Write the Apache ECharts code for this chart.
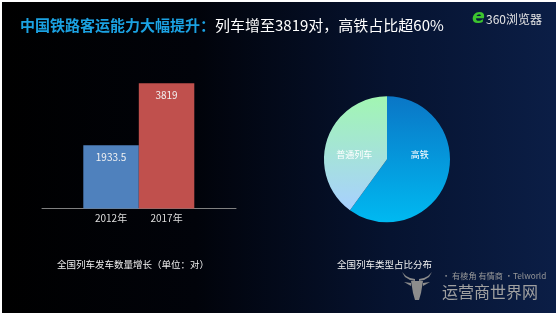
<!DOCTYPE html>
<html>
<head>
<meta charset="utf-8">
<script src="https://cdn.jsdelivr.net/npm/echarts@6/dist/echarts.min.js"></script>
<style>
  html, body { margin: 0; padding: 0; background: #fff; }
  #chart { position: absolute; left: 2px; top: 2px; width: 554px; height: 311px; }
</style>
</head>
<body>
<div id="chart"></div>
<script>
// data
var years = ['2012年', '2017年'];
var trainPairs = [1933.5, 3819];
var trainTypes = ['高铁', '普通列车'];
var typeShares = [60, 40];

var FONT = '"Noto Sans CJK SC", "Noto Sans", sans-serif';
var barColors = ['#4f81bd', '#c0504d'];
var pieColors = [
    new echarts.graphic.LinearGradient(0, 0, 0, 1, [
        { offset: 0, color: '#0a76c6' },
        { offset: 1, color: '#00b9f1' }
    ]),
    new echarts.graphic.LinearGradient(0, 0, 0, 1, [
        { offset: 0, color: '#a2f6b2' },
        { offset: 1, color: '#a8d0ff' }
    ])
];
var iconGrey = '#8c8c8c';
var pieLabelY = 153; // both slice names sit on one line in the original

var myChart = echarts.init(document.getElementById('chart'));

var option = {
    backgroundColor: new echarts.graphic.LinearGradient(0, 0, 1, 0, [
        { offset: 0, color: '#000000' },
        { offset: 0.35, color: '#01030a' },
        { offset: 0.7, color: '#061330' },
        { offset: 1, color: '#0b1e46' }
    ]),
    textStyle: { fontFamily: FONT },
    title: [{
        left: 18,
        top: 16,
        padding: 0,
        text: '{a|中国铁路客运能力大幅提升：}{b|列车增至3819对，高铁占比超60%}',
        textStyle: {
            fontWeight: 'normal',
            rich: {
                a: { color: '#1ba2e2', fontSize: 15, fontWeight: 'bold', fontFamily: FONT },
                b: { color: '#ffffff', fontSize: 15, fontWeight: 'normal', fontFamily: FONT }
            }
        }
    }, {
        left: 55,
        top: 258,
        padding: 0,
        text: '全国列车发车数量增长（单位：对）',
        textStyle: { color: '#f0f0f0', fontSize: 9.5, fontWeight: 'normal', fontFamily: FONT }
    }, {
        left: 335,
        top: 258,
        padding: 0,
        text: '全国列车类型占比分布',
        textStyle: { color: '#f0f0f0', fontSize: 9.5, fontWeight: 'normal', fontFamily: FONT }
    }],
    grid: [
        { left: 81.3, top: 75.4, width: 111, height: 131.1 },
        { left: 40, top: 75.4, width: 194, height: 131.1 }
    ],
    xAxis: [{
        gridIndex: 0,
        type: 'category',
        data: years,
        axisLine: { show: false },
        axisTick: { show: false },
        axisLabel: { color: '#dddddd', fontSize: 10, margin: 5 }
    }, {
        gridIndex: 1,
        type: 'category',
        data: [''],
        axisLine: { lineStyle: { color: '#808080', width: 1 } },
        axisTick: { length: 4, lineStyle: { color: '#808080' } },
        axisLabel: { show: false }
    }],
    yAxis: [
        { gridIndex: 0, type: 'value', min: 0, max: 4000, show: false },
        { gridIndex: 1, type: 'value', show: false }
    ],
    series: [{
        type: 'bar',
        xAxisIndex: 0,
        yAxisIndex: 0,
        barCategoryGap: 0,
        data: trainPairs.map(function(v, i) {
            return { value: v, itemStyle: { color: barColors[i] } };
        }),
        label: {
            show: true,
            position: 'insideTop',
            distance: 7,
            color: '#f2f2f2',
            fontSize: 10
        },
        silent: true
    }, {
        type: 'pie',
        center: [385, 157.3],
        radius: 63,
        startAngle: 90,
        clockwise: true,
        data: trainTypes.map(function(n, i) {
            return { name: n, value: typeShares[i], itemStyle: { color: pieColors[i] } };
        }),
        label: {
            show: true,
            position: 'inside',
            color: '#ffffff',
            fontSize: 9,
            formatter: '{b}'
        },
        labelLayout: function(params) {
            var r = params.labelRect;
            return { dy: pieLabelY - (r.y + r.height / 2) };
        },
        labelLine: { show: false },
        silent: true
    }],
    graphic: [{
        type: 'text',
        left: 470,
        top: 7,
        style: { text: 'e', fill: '#3cc42f', font: 'bold italic 19px "DejaVu Sans", sans-serif' }
    }, {
        type: 'text',
        left: 484,
        top: 11,
        style: { text: '360浏览器', fill: '#e6e6e6', font: '12px ' + FONT }
    }, {
        type: 'group',
        left: 400,
        top: 270,
        children: [{
            type: 'polygon',
            shape: { points: [[0, 1], [3, 6], [8, 9], [13, 10], [13, 8], [8, 7], [4, 5]] },
            style: { fill: iconGrey }
        }, {
            type: 'polygon',
            shape: { points: [[30, 1], [27, 6], [22, 9], [17, 10], [17, 8], [22, 7], [26, 5]] },
            style: { fill: iconGrey }
        }, {
            type: 'polygon',
            shape: { points: [[9, 10], [21, 10], [19, 22], [17, 29], [13, 29], [11, 22]] },
            style: { fill: iconGrey }
        }, {
            type: 'polygon',
            shape: { points: [[2, 11], [9, 12], [9, 15]] },
            style: { fill: iconGrey }
        }, {
            type: 'polygon',
            shape: { points: [[28, 11], [21, 12], [21, 15]] },
            style: { fill: iconGrey }
        }]
    }, {
        type: 'text',
        left: 440,
        top: 270,
        style: { text: '· 有棱角 有情商 ·Telworld', fill: '#9a9a9a', font: '8.2px ' + FONT }
    }, {
        type: 'text',
        left: 440,
        top: 282,
        style: { text: '运营商世界网', fill: '#a0a0a0', font: '16px ' + FONT }
    }]
};

myChart.setOption(option);
</script>
</body>
</html>
